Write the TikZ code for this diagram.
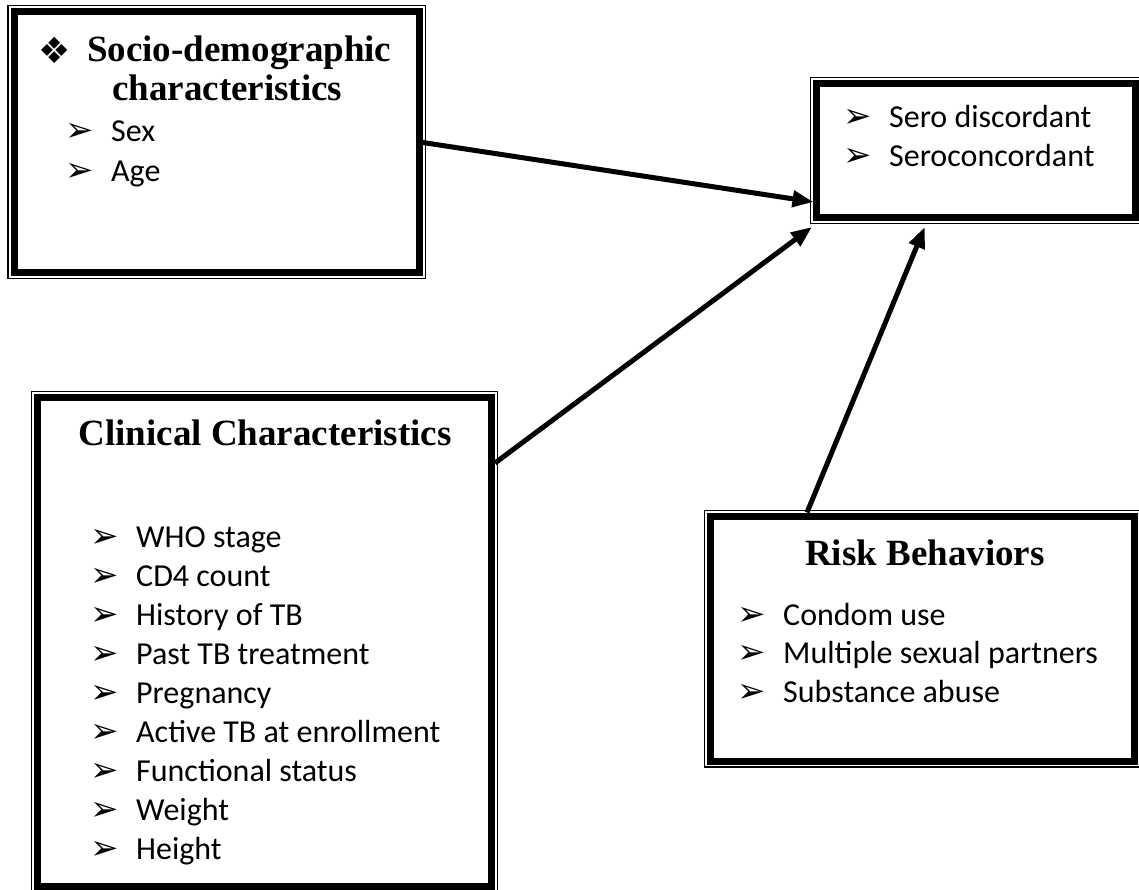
\documentclass[tikz,border=0pt]{standalone}
\usepackage{fontspec}
\setmainfont{Liberation Serif}
\newfontfamily\bodyfnt{Carlito}
\newfontfamily\symfnt{DejaVu Sans}
\usetikzlibrary{arrows.meta,calc}
\newcommand{\myarr}{\makebox[46pt][l]{\symfnt\fontsize{34}{34}\selectfont ➢}}
\begin{document}
\begin{tikzpicture}[x=1pt,y=-1pt,
  box/.style={draw, line width=7pt, outer sep=0pt, inner sep=0pt},
  outerline/.style={draw, line width=1.2pt},
  ttl/.style={font=\bfseries\fontsize{37}{40}\selectfont, inner sep=0pt},
  item/.style={font=\bodyfnt\fontsize{32}{39}\selectfont, inner sep=0pt, anchor=base west},
  link/.style={line width=5pt, -{Triangle[length=21pt,width=16pt]}}]
\useasboundingbox (0,0) rectangle (1139,890);

% boxes
\node[box, minimum width=405.5pt, minimum height=261pt] (socio) at (216.75,142) {};
\node[box, minimum width=318.5pt, minimum height=134pt] (outcome) at (975.75,150.5) {};
\node[box, minimum width=454pt, minimum height=489pt] (clin) at (264.5,642) {};
\node[box, minimum width=423.5pt, minimum height=244.5pt] (risk) at (922.25,638.75) {};
\foreach \b in {socio,outcome,clin,risk}
  \draw[outerline] ($(\b.north west)+(-6,-6)$) rectangle ($(\b.south east)+(6,6)$);

% socio-demographic
\node[font=\symfnt\fontsize{36}{36}\selectfont, inner sep=0pt] (diam) at (55,50) {❖};
\node[ttl, anchor=base west] (st1) at (87,62) {Socio-demographic};
\node[ttl, anchor=base west] (st2) at (112,101) {characteristics};
\node[item] (s1) at (65,142) {\myarr Sex};
\node[item] (s2) at (65,182) {\myarr Age};

% outcome
\node[item] (o1) at (843,128) {\myarr Sero discordant};
\node[item] (o2) at (843,167) {\myarr Seroconcordant};

% clinical
\node[ttl, anchor=base] (ct) at (265,445) {Clinical Characteristics};
\foreach \t [count=\i] in {WHO stage, CD4 count, History of TB, Past TB treatment, Pregnancy, Active TB at enrollment, Functional status, Weight, Height}
  \node[item] (c\i) at (90,{547+39*(\i-1)}) {\myarr \t};

% risk
\node[ttl, anchor=base] (rt) at (925,565) {Risk Behaviors};
\node[item] (r1) at (737,625) {\myarr Condom use};
\node[item] (r2) at (737,663.5) {\myarr Multiple sexual partners};
\node[item] (r3) at (737,702) {\myarr Substance abuse};

% connectors
\draw[link] (socio.east) -- ($(outcome.west)+(-3,51.5)$);
\draw[link] ($(clin.east)+(3.5,-179)$) -- ($(outcome.south west)+(-4.5,9.5)$);
\draw[link] ($(risk.north west)+(96.5,-4)$) -- ($(outcome.south)+(-51,9.5)$);
\end{tikzpicture}
\end{document}
